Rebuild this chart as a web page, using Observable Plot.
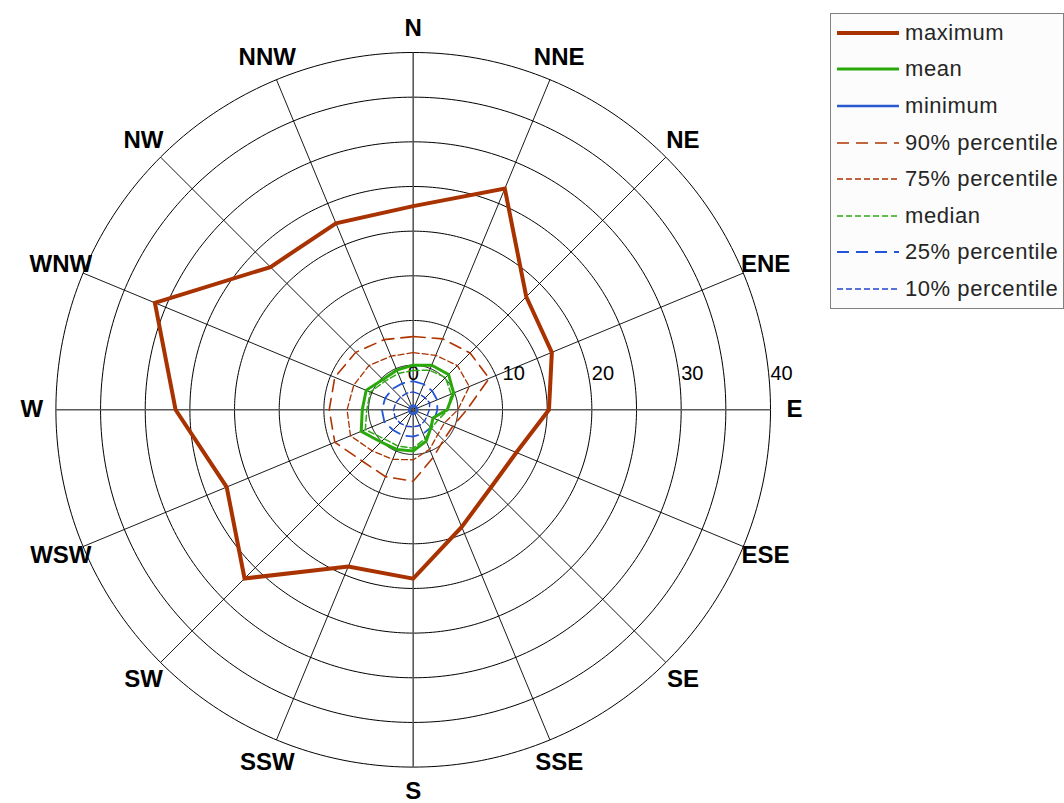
<!DOCTYPE html>
<html>
<head>
<meta charset="utf-8">
<script src="https://cdn.jsdelivr.net/npm/d3@7"></script>
<script src="https://cdn.jsdelivr.net/npm/@observablehq/plot@0.6"></script>
<style>
  body { margin: 0; background: #fff; font-family: "Liberation Sans", Arial, sans-serif; }
  #wrap { position: relative; width: 1064px; height: 803px; overflow: hidden; background: #fff; }
  #legend { position: absolute; left: 830px; top: 13px; width: 234px; height: 296px;
            border: 1px solid #808080; background: #fcfcfc; box-sizing: border-box; }
  .row { position: absolute; left: 5px; height: 24px; display: flex; align-items: center; }
  .row svg { width: 64px; height: 10px; display: block; }
  .row span { margin-left: 5px; font-size: 22px; letter-spacing: 0.55px; color: #262626; white-space: nowrap; line-height: 24px; }
</style>
</head>
<body>
<div id="wrap"><div id="legend"></div></div>
<script>
// ---------------- data ----------------
const directions = ["N","NNE","NE","ENE","E","ESE","SE","SSE","S","SSW","SW","WSW","W","WNW","NW","NNW"];
const maximum = [22.8, 26.8, 17.9, 16.8, 15.2, 12.5, 12.3, 14.2, 18.9, 19.0, 26.7, 22.6, 26.6, 31.3, 22.6, 22.6];
const mean    = [5.0, 5.4, 5.6, 4.9, 3.8, 2.4, 2.8, 3.8, 4.6, 4.8, 5.1, 6.3, 5.7, 5.7, 4.8, 4.8];
const minimum = [0.45, 0.45, 0.45, 0.45, 0.45, 0.45, 0.45, 0.45, 0.45, 0.45, 0.45, 0.45, 0.45, 0.45, 0.45, 0.45];
const p90     = [8.2, 8.6, 9.0, 9.2, 6.0, 4.8, 4.8, 5.8, 8.0, 8.1, 8.1, 9.5, 9.4, 9.5, 9.1, 8.5];
const p75     = [6.4, 6.6, 7.0, 6.8, 5.0, 3.8, 3.9, 4.8, 5.6, 6.0, 6.5, 7.6, 7.4, 7.2, 7.0, 6.5];
const median  = [4.4, 4.8, 5.1, 4.6, 3.9, 3.0, 2.9, 3.5, 4.3, 4.4, 4.6, 5.8, 5.2, 5.2, 4.5, 4.4];
const p25     = [3.2, 3.1, 3.0, 2.9, 2.7, 2.6, 2.8, 2.9, 3.0, 3.1, 3.2, 3.5, 3.5, 3.4, 3.3, 3.2];
const p10     = [2.0, 1.9, 1.9, 2.0, 1.8, 1.7, 1.8, 1.9, 1.9, 2.0, 2.1, 2.2, 2.2, 2.1, 2.0, 2.0];
const seriesNames = ["maximum","mean","minimum","90% percentile","75% percentile","median","25% percentile","10% percentile"];
const seriesValues = [maximum, mean, minimum, p90, p75, median, p25, p10];
const ringValues = [5, 10, 15, 20, 25, 30, 35, 40];
const tickLabels = [0, 10, 20, 30, 40];
const rMax = 40;

// ---------------- styles ----------------
const styles = {
  "maximum":        {stroke: "#a83200", width: 4,   dash: null},
  "mean":           {stroke: "#28a80a", width: 3,   dash: null},
  "minimum":        {stroke: "#2a5ad0", width: 2.6, dash: null},
  "90% percentile": {stroke: "#b03300", width: 1.6, dash: "12,7"},
  "75% percentile": {stroke: "#a83200", width: 1.3, dash: "6,3"},
  "median":         {stroke: "#2ea814", width: 1.5, dash: "6,3"},
  "25% percentile": {stroke: "#2255d8", width: 1.8, dash: "12,7"},
  "10% percentile": {stroke: "#2244c8", width: 1.4, dash: "6,3"}
};

// ---------------- layout ----------------
const W = 1064, H = 803;
const cx = 412.7, cy = 409.3, outerPx = 357.3;
const k = outerPx / rMax; // px per unit
const xDomain = [-cx / k, (W - cx) / k];
const yDomain = [-(H - cy) / k, cy / k];

const ang = i => i * 2 * Math.PI / directions.length; // clockwise from north
const px = (r, a) => r * Math.sin(a);
const py = (r, a) => r * Math.cos(a);

// closed polygons
const seriesData = seriesNames.map((name, s) => {
  const vals = seriesValues[s];
  const pts = directions.map((d, i) => ({name, dir: d, r: vals[i], x: px(vals[i], ang(i)), y: py(vals[i], ang(i))}));
  pts.push(pts[0]);
  return pts;
});

// grid rings
const ringPts = [];
for (const r of ringValues) {
  for (let deg = 0; deg <= 360; deg += 1) {
    const a = deg * Math.PI / 180;
    ringPts.push({ring: r, x: px(r, a), y: py(r, a)});
  }
}
const spokes = directions.map((d, i) => ({dir: d, cardinal: i % 4 === 0, x2: px(rMax, ang(i)), y2: py(rMax, ang(i))}));
const labelR = 42.7;
const labelY = 4.1;

const marks = [
  Plot.line(ringPts, {x: "x", y: "y", z: "ring", stroke: "#000", strokeWidth: 1}),
  Plot.link(spokes.filter(d => !d.cardinal), {x1: 0, y1: 0, x2: "x2", y2: "y2", stroke: "#000", strokeWidth: 0.9}),
  Plot.link(spokes.filter(d => d.cardinal), {x1: 0, y1: 0, x2: "x2", y2: "y2", stroke: "#5a5a5a", strokeWidth: 1.6}),
  Plot.text(directions, {x: (d, i) => px(labelR, ang(i)), y: (d, i) => py(labelR, ang(i)), text: d => d,
    fontWeight: "bold", fontSize: 24, fill: "#000"}),
  Plot.text(tickLabels.filter(v => v === 0), {x: v => v, y: labelY, text: v => String(v), fontSize: 20, fill: "#000", textAnchor: "middle"}),
  Plot.text(tickLabels.filter(v => v !== 0), {x: v => v, y: labelY, text: v => String(v), fontSize: 20, fill: "#000", textAnchor: "start"})
];
// draw order: percentiles first, then solid lines
const order = [7, 6, 5, 4, 3, 2, 1, 0];
for (const s of order) {
  const st = styles[seriesNames[s]];
  const opts = {x: "x", y: "y", stroke: st.stroke, strokeWidth: st.width, curve: "linear", strokeLinejoin: "miter", strokeMiterlimit: 4};
  if (st.dash) opts.strokeDasharray = st.dash;
  marks.push(Plot.line(seriesData[s], opts));
}

const chart = Plot.plot({
  width: W, height: H, margin: 0,
  x: {domain: xDomain, axis: null},
  y: {domain: yDomain, axis: null},
  style: {background: "#fff", fontFamily: "'Liberation Sans', Arial, sans-serif", overflow: "visible"},
  marks
});
const wrap = document.getElementById("wrap");
wrap.insertBefore(chart, wrap.firstChild);

// ---------------- legend ----------------
const legend = document.getElementById("legend");
const rowStep = 36.6, rowTop = 6.7;
seriesNames.forEach((name, s) => {
  const st = styles[name];
  const row = document.createElement("div");
  row.className = "row";
  row.style.top = (rowTop + s * rowStep) + "px";
  const dash = st.dash ? `stroke-dasharray="${st.dash}"` : "";
  row.innerHTML = `<svg viewBox="0 0 64 10"><line x1="1" y1="5" x2="63" y2="5" stroke="${st.stroke}" stroke-width="${st.width}" ${dash}/></svg><span>${name}</span>`;
  legend.appendChild(row);
});
</script>
</body>
</html>
